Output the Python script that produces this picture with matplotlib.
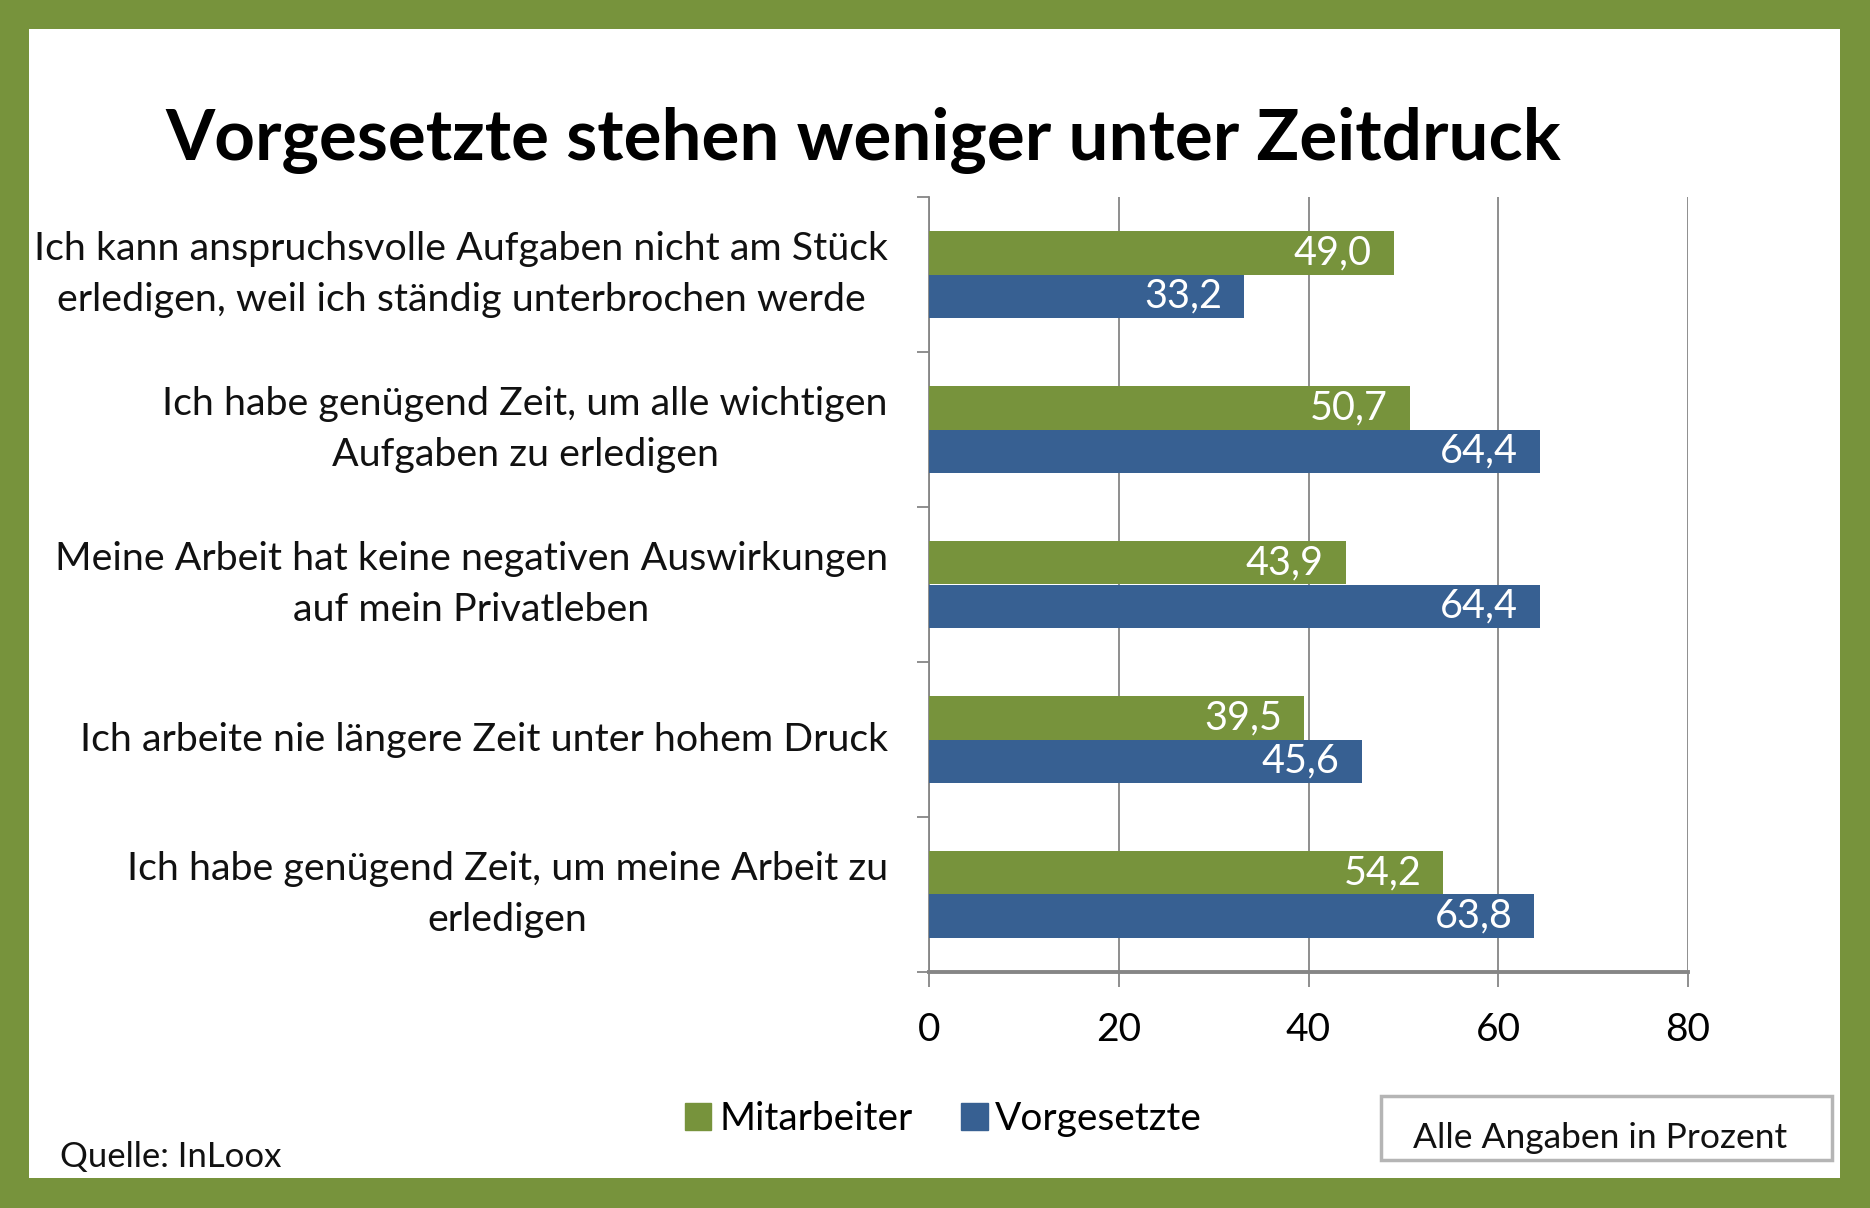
import matplotlib.pyplot as plt
import matplotlib.patches as mpatches
import numpy as np

categories = [
    "Ich kann anspruchsvolle Aufgaben nicht am Stück\nerledigen, weil ich ständig unterbrochen werde",
    "Ich habe genügend Zeit, um alle wichtigen\nAufgaben zu erledigen",
    "Meine Arbeit hat keine negativen Auswirkungen\nauf mein Privatleben",
    "Ich arbeite nie längere Zeit unter hohem Druck",
    "Ich habe genügend Zeit, um meine Arbeit zu\nerledigen",
]
mitarbeiter = [49.0, 50.7, 43.9, 39.5, 54.2]
vorgesetzte = [33.2, 64.4, 64.4, 45.6, 63.8]
series_names = ["Mitarbeiter", "Vorgesetzte"]
xticks = [0, 20, 40, 60, 80]

GREEN = "#77933C"
BLUE = "#376092"
GRID = "#868686"
W, H = 1870, 1208

plt.rcParams['font.family'] = ['Lato', 'DejaVu Sans']

fig = plt.figure(figsize=(W / 100, H / 100), dpi=100, facecolor=GREEN)

def fx(px):
    return px / W

def fy(py):
    return 1 - py / H

# white panel inside the green frame
fig.patches.append(mpatches.Rectangle((fx(29), fy(1178)), fx(1840) - fx(29), fy(29) - fy(1178),
                                      transform=fig.transFigure, facecolor="white", edgecolor="none", zorder=-10))

ax = fig.add_axes([fx(929), fy(972), fx(1688) - fx(929), fy(197) - fy(972)])
ax.set_facecolor("none")

y = np.arange(len(categories))
h = 0.28
ax.barh(y - h / 2, mitarbeiter, height=h, color=GREEN, label=series_names[0], zorder=3)
ax.barh(y + h / 2, vorgesetzte, height=h, color=BLUE, label=series_names[1], zorder=3)

for i in range(len(categories)):
    ax.annotate(f"{mitarbeiter[i]:.1f}".replace(".", ","), (mitarbeiter[i], y[i] - h / 2),
                xytext=(-22, 0), textcoords="offset pixels", ha="right", va="center",
                color="white", fontsize=28.5, zorder=4)
    ax.annotate(f"{vorgesetzte[i]:.1f}".replace(".", ","), (vorgesetzte[i], y[i] + h / 2),
                xytext=(-22, 0), textcoords="offset pixels", ha="right", va="center",
                color="white", fontsize=28.5, zorder=4)

ax.set_xlim(0, 80)
ax.set_ylim(len(categories) - 0.5, -0.5)
ax.set_xticks(xticks)
ax.set_xticklabels([str(t) for t in xticks], fontsize=28)
ax.xaxis.grid(True, color=GRID, linewidth=1.3, zorder=0)
ax.tick_params(axis="x", length=11, width=1.3, color=GRID, pad=18)

ax.set_yticks(np.arange(-0.5, len(categories)), minor=False)
ax.set_yticklabels([])
ax.tick_params(axis="y", length=9, width=1.3, color=GRID)

for s in ["top", "right"]:
    ax.spines[s].set_visible(False)
ax.spines["left"].set_color(GRID)
ax.spines["left"].set_linewidth(1.3)
ax.spines["bottom"].set_color(GRID)
ax.spines["bottom"].set_linewidth(2.8)

for i, lab in enumerate(categories):
    ax.annotate(lab, (0, y[i]), xytext=(-41, 0), textcoords="offset pixels",
                ha="right", va="center", multialignment="center",
                fontsize=28.4, linespacing=1.52, color="#111111")

fig.text(fx(863), fy(140), "Vorgesetzte stehen weniger unter Zeitdruck",
         ha="center", va="center", fontsize=51, fontweight="bold", color="black")

handles = [mpatches.Patch(color=GREEN), mpatches.Patch(color=BLUE)]
fig.legend(handles, series_names, loc="center left", bbox_to_anchor=(fx(685), fy(1119)),
           ncol=2, frameon=False, fontsize=28, handlelength=0.68, handleheight=0.72,
           handletextpad=0.2, columnspacing=1.25, borderpad=0, borderaxespad=0)

fig.text(fx(60), fy(1157), "Quelle: InLoox", ha="left", va="center", fontsize=25, color="#111111")

fig.patches.append(mpatches.Rectangle((fx(1381), fy(1160)), fx(1832) - fx(1381), fy(1096) - fy(1160),
                                      transform=fig.transFigure, facecolor="white",
                                      edgecolor="#B5B5B5", linewidth=2.5, zorder=1))
fig.text(fx(1600), fy(1138), "Alle Angaben in Prozent", ha="center", va="center",
         fontsize=25.5, color="#111111")

fig.savefig("out.png", dpi=100, facecolor=GREEN)
